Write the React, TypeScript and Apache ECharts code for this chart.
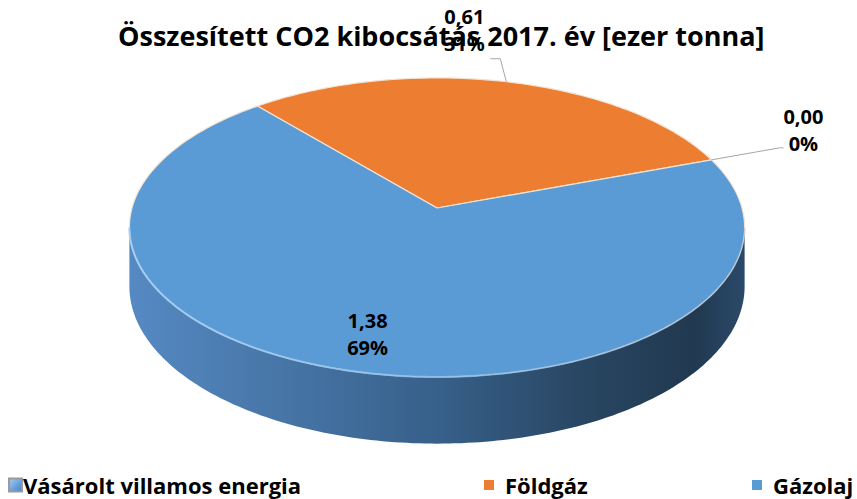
import React, { useEffect, useRef } from "react";
import * as echarts from "echarts";

// ---- data ----
const categories: string[] = ["Vásárolt villamos energia", "Földgáz", "Gázolaj"];
const values: number[] = [0.0, 0.61, 1.38];
const titleText = "Összesített CO2 kibocsátás 2017. év [ezer tonna]";

// ---- styles / layout ----
const sliceColors = ["#4A86C8", "#ED7D31", "#5B9BD5"];
const FONT = "'Open Sans', 'Noto Sans', sans-serif";
const CX = 437; // apex of pie (px)
const CY = 208;
const RX = 305;
const RY = 147;
const K = 0.13; // perspective factor
const H = 58; // wall thickness
const START = 70; // degrees clockwise from 12 o'clock, slices go counter-clockwise
const labelLayout = [
  { outside: true, elbow: [68, -12], end: [72, -12], text: [92, -30] },
  { outside: true, elbow: [-6, -23], end: [-16, -23], text: [-42, -52] },
  { outside: false, r: 0.8 },
];
const legendLeft = [8, 484, 752];

const total = values.reduce((a, b) => a + b, 0);

function pt(deg: number, r = 1) {
  const t = (deg * Math.PI) / 180;
  const u = r * Math.sin(t);
  const v = r * Math.cos(t);
  const s = 1 / (1 + K * v);
  return { x: CX + u * RX * s, y: CY - v * RY * s, s };
}

function arcPoints(a: number, b: number, bottom = false) {
  const pts: number[][] = [];
  const n = Math.max(2, Math.ceil(Math.abs(b - a)));
  for (let j = 0; j <= n; j++) {
    const d = a + ((b - a) * j) / n;
    const p = pt(d);
    pts.push([p.x, bottom ? p.y + H * p.s : p.y]);
  }
  return pts;
}

function fmt(v: number) {
  return v.toFixed(2).replace(".", ",");
}

function makeRender(i: number) {
  return (_params: any, api: any) => {
    const v = api.value(0) as number;
    let before = 0;
    for (let j = 0; j < i; j++) before += values[j];
    const end = START - (before / total) * 360;
    const start = end - (v / total) * 360;
    const children: any[] = [];
    if (v > 0) {
      // wall (front visible part)
      const a = start - 360 * Math.floor(start / 360);
      const b = end - (start - a);
      const visA = (Math.acos(-K) * 180) / Math.PI;
      const visB = 360 - visA;
      [0, 360].forEach((off) => {
        const lo = Math.max(a, visA + off);
        const hi = Math.min(b, visB + off);
        if (hi > lo) {
          const top = arcPoints(lo, hi);
          const bot = arcPoints(lo, hi, true).reverse();
          children.push({
            type: "polygon",
            z2: 1,
            shape: { points: top.concat(bot) },
            style: {
              fill: {
                type: "linear",
                x: CX - RX,
                y: 0,
                x2: CX + RX,
                y2: 0,
                global: true,
                colorStops: [
                  { offset: 0, color: "#5689C3" },
                  { offset: 0.25, color: "#4675A6" },
                  { offset: 0.5, color: "#37608A" },
                  { offset: 0.75, color: "#284561" },
                  { offset: 0.92, color: "#213950" },
                  { offset: 1, color: "#2A4867" },
                ],
              },
            },
          });
          children.push({
            type: "polyline",
            z2: 12,
            shape: { points: top },
            style: {
              fill: null,
              lineWidth: 2,
              stroke: {
                type: "linear",
                x: CX - RX,
                y: 0,
                x2: CX + RX,
                y2: 0,
                global: true,
                colorStops: [
                  { offset: 0, color: "rgba(160,205,245,0.9)" },
                  { offset: 0.5, color: "rgba(130,185,235,0.8)" },
                  { offset: 1, color: "rgba(110,160,210,0.3)" },
                ],
              },
            },
          });
        }
      });
      // top face
      const topPts = [[CX, CY]].concat(arcPoints(start, end));
      children.push({
        type: "polygon",
        z2: 10,
        shape: { points: topPts },
        style: {
          fill: sliceColors[i],
          stroke: "#F3E3D3",
          lineWidth: 1.2,
          lineJoin: "round",
        },
      });
    }
    // label
    const mid = (start + end) / 2;
    const lay: any = labelLayout[i];
    const txt = fmt(v) + "\n" + Math.round((v / total) * 100) + "%";
    let tx: number, ty: number;
    if (lay.outside) {
      const p = pt(mid);
      children.push({
        type: "polyline",
        z2: 15,
        shape: {
          points: [
            [p.x, p.y],
            [p.x + lay.elbow[0], p.y + lay.elbow[1]],
            [p.x + lay.end[0], p.y + lay.end[1]],
          ],
        },
        style: { fill: null, stroke: "#A6A6A6", lineWidth: 1 },
      });
      tx = p.x + lay.text[0];
      ty = p.y + lay.text[1];
    } else {
      const p = pt(mid, lay.r);
      tx = p.x;
      ty = p.y;
    }
    children.push({
      type: "text",
      z2: 20,
      style: {
        text: txt,
        x: tx,
        y: ty,
        align: "center",
        verticalAlign: "middle",
        fontFamily: FONT,
        fontWeight: "bold",
        fontSize: 20,
        lineHeight: 27,
        fill: "#000",
      },
    });
    return { type: "group", children };
  };
}

export default function App() {
  const ref = useRef<HTMLDivElement>(null);
  useEffect(() => {
    if (!ref.current) return;
    const chart = echarts.init(ref.current, null, { renderer: "svg" });
    const legendIcon = [
      {
        color: {
          type: "linear",
          x: 0,
          y: 0,
          x2: 1,
          y2: 1,
          colorStops: [
            { offset: 0, color: "#A8CDF0" },
            { offset: 1, color: "#3F7FCC" },
          ],
        },
        borderColor: "#9A9A9A",
        borderWidth: 2,
      },
      { color: sliceColors[1] },
      { color: sliceColors[2] },
    ];
    chart.setOption({
      animation: false,
      backgroundColor: "#ffffff",
      title: {
        text: titleText,
        left: 118,
        top: 22,
        padding: 0,
        textStyle: {
          fontFamily: FONT,
          fontWeight: "bold",
          fontSize: 27,
          color: "#000",
        },
      },
      legend: categories.map((c, i) => ({
        data: [{ name: c, icon: "rect", itemStyle: legendIcon[i] }],
        left: legendLeft[i],
        top: 474,
        padding: 0,
        selectedMode: false,
        itemWidth: i === 0 ? 13 : 10,
        itemHeight: i === 0 ? 13 : 10,
        itemGap: 0,
        textStyle: {
          fontFamily: FONT,
          fontWeight: "bold",
          fontSize: 22,
          color: "#000",
          padding: i === 0 ? [0, 0, 0, -4] : [0, 0, 0, 6],
        },
      })),
      series: categories.map((c, i) => ({
        type: "custom",
        name: c,
        coordinateSystem: "none",
        silent: true,
        itemStyle: { color: sliceColors[i] },
        data: [[values[i]]],
        renderItem: makeRender(i),
      })),
    });
    return () => chart.dispose();
  }, []);
  return (
    <div
      ref={ref}
      style={{ position: "fixed", left: 0, top: 0, width: 857, height: 499 }}
    />
  );
}
